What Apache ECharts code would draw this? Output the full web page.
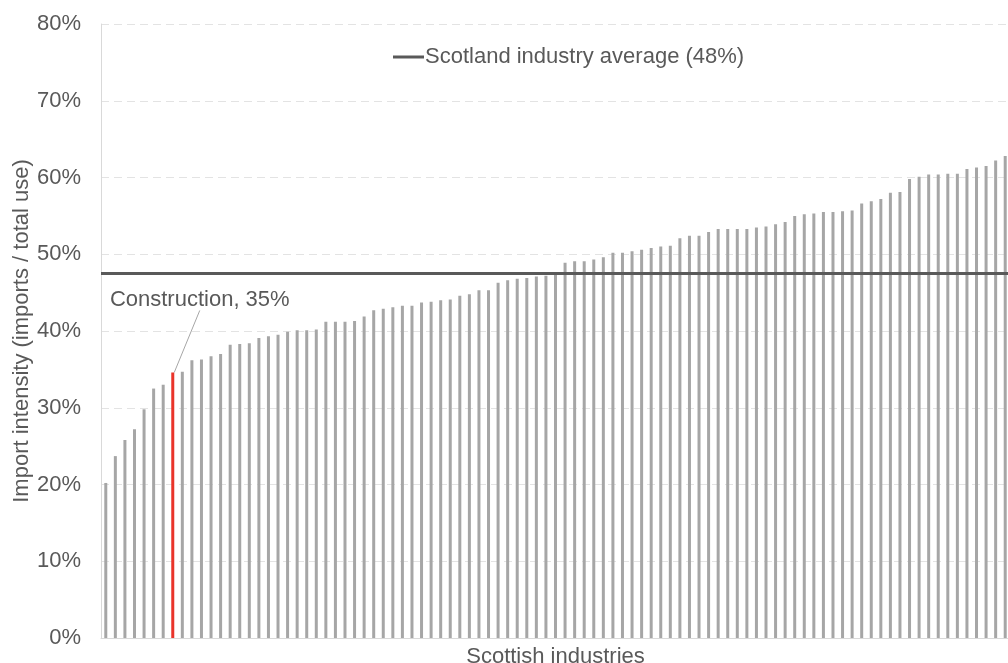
<!DOCTYPE html>
<html>
<head>
<meta charset="utf-8">
<script src="https://cdn.jsdelivr.net/npm/echarts@6/dist/echarts.min.js"></script>
<style>
  html, body { margin: 0; padding: 0; background: #fff; }
  #chart { width: 1008px; height: 663px; }
</style>
</head>
<body>
<div id="chart"></div>
<script>
// import intensity by Scottish industry, sorted ascending (%)
const values = [
  20.2, 23.7, 25.8, 27.2, 29.8, 32.5, 33.0, 34.6, 34.7, 36.2,
  36.3, 36.7, 37.0, 38.2, 38.3, 38.4, 39.1, 39.3, 39.5, 39.9,
  40.1, 40.1, 40.2, 41.2, 41.2, 41.2, 41.3, 41.9, 42.7, 42.9,
  43.1, 43.3, 43.3, 43.7, 43.8, 44.0, 44.1, 44.6, 44.8, 45.3,
  45.3, 46.3, 46.6, 46.8, 46.9, 47.1, 47.2, 47.3, 48.9, 49.1,
  49.1, 49.3, 49.6, 50.2, 50.2, 50.4, 50.6, 50.8, 51.0, 51.1,
  52.1, 52.4, 52.4, 52.9, 53.3, 53.3, 53.3, 53.3, 53.5, 53.6,
  53.9, 54.2, 55.0, 55.2, 55.3, 55.5, 55.5, 55.6, 55.7, 56.6,
  56.9, 57.2, 58.0, 58.1, 59.8, 60.1, 60.4, 60.4, 60.5, 60.5,
  61.1, 61.3, 61.5, 62.2, 62.8
]
const highlightIndex = 7
const highlightName = 'Construction'
const categories = values.map((v, i) => (i === highlightIndex ? highlightName : 'Industry ' + (i + 1)))
const averageValue = 47.5
const averageName = 'Scotland industry average (48%)'
const yTicks = [0, 10, 20, 30, 40, 50, 60, 70, 80]

const FONT = '"Liberation Sans", Arial, sans-serif'
const TEXT = '#595959'
const FS = 22

const chart = echarts.init(document.getElementById('chart'))

chart.setOption({
  animation: false,
  textStyle: { fontFamily: FONT },
  grid: { left: 101, top: 24, bottom: 25, width: 909, containLabel: false, outerBoundsMode: 'none' },
  legend: {
    left: 388,
    top: 41,
    data: [{ name: averageName, icon: 'rect' }],
    itemWidth: 31,
    itemHeight: 3,
    itemGap: 4,
    textStyle: { fontSize: FS, color: TEXT, fontFamily: FONT, padding: [0, 0, 0, -4] },
  },
  xAxis: {
    type: 'category',
    data: categories,
    name: 'Scottish industries',
    nameLocation: 'middle',
    nameGap: 8,
    nameMoveOverlap: false,
    nameTextStyle: { fontSize: FS, color: TEXT, fontFamily: FONT },
    axisLine: { lineStyle: { color: '#D9D9D9', width: 1 } },
    axisTick: { show: false },
    axisLabel: { show: false },
  },
  yAxis: {
    type: 'value',
    min: yTicks[0],
    max: yTicks[yTicks.length - 1],
    interval: 10,
    name: 'Import intensity (imports / total use)',
    nameLocation: 'middle',
    nameGap: 68,
    nameMoveOverlap: false,
    nameTextStyle: { fontSize: FS, color: TEXT, fontFamily: FONT },
    axisLine: { show: true, lineStyle: { color: '#D9D9D9', width: 1 } },
    axisTick: { show: false },
    axisLabel: { formatter: '{value}%', fontSize: FS, color: TEXT, fontFamily: FONT, margin: 20 },
    splitLine: { lineStyle: { color: '#E3E3E3', type: [8, 5], width: 1 } },
  },
  series: [
    {
      type: 'bar',
      barWidth: 3,
      silent: true,
      data: values.map((v, i) => i === highlightIndex
        ? {
            value: v,
            itemStyle: { color: '#E9342A' },
            label: {
              show: true,
              position: 'top',
              formatter: highlightName + ', 35%',
              fontSize: FS,
              color: TEXT,
              fontFamily: FONT,
            },
            labelLine: { show: true, lineStyle: { color: '#A6A6A6', width: 1 } },
          }
        : { value: v, itemStyle: { color: '#A6A6A6' } }),
      labelLayout: (p) => (p.dataIndex === highlightIndex ? { dx: 27, dy: -57 } : {}),
      labelLine: { show: true, lineStyle: { color: '#A6A6A6', width: 1 } },
    },
    {
      type: 'line',
      name: averageName,
      data: [],
      symbol: 'none',
      lineStyle: { color: TEXT, width: 3 },
      itemStyle: { color: TEXT },
      markLine: {
        silent: true,
        symbol: 'none',
        label: { show: false },
        lineStyle: { color: TEXT, width: 3, type: 'solid' },
        data: [{ yAxis: averageValue }],
      },
    },
  ],
})
</script>
</body>
</html>
